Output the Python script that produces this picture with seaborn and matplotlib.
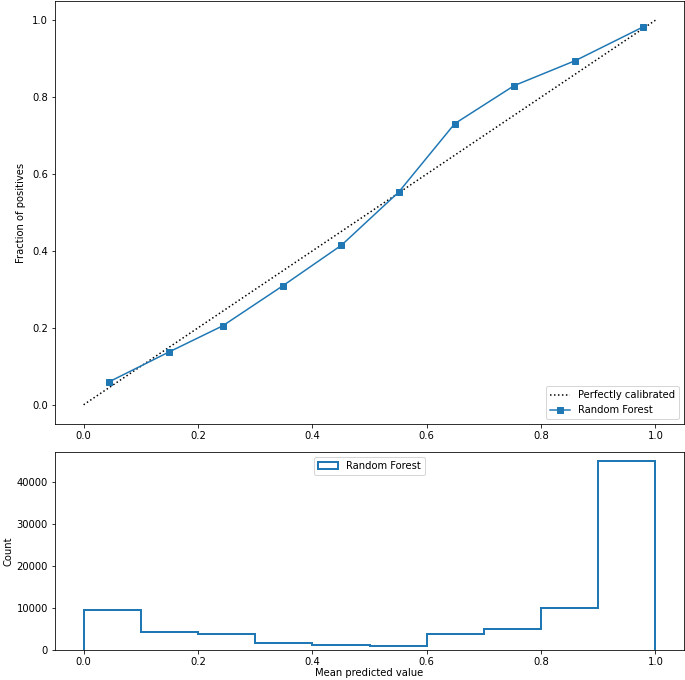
import numpy as np
import matplotlib
matplotlib.use("Agg")
import matplotlib.pyplot as plt
import seaborn as sns

# Calibration curve data
mean_pred = [0.045, 0.149, 0.243, 0.348, 0.451, 0.551, 0.649, 0.753, 0.860, 0.979]
frac_pos = [0.060, 0.137, 0.205, 0.309, 0.415, 0.553, 0.731, 0.830, 0.895, 0.983]
perfect = [0.0, 1.0]

# Histogram data
bin_edges = [0.0, 0.1, 0.2, 0.3, 0.4, 0.5, 0.6, 0.7, 0.8, 0.9, 1.0]
bin_counts = [9550, 4220, 3850, 1680, 1200, 960, 3750, 4950, 10000, 45000]

model_name = "Random Forest"
color = "#1f77b4"

plt.rcParams['font.family'] = ['DejaVu Sans']
plt.rcParams['font.size'] = 10

fig = plt.figure(figsize=(685 / 72, 680 / 72), dpi=72)
ax1 = fig.add_axes([55 / 685, 1 - 424 / 680, 629 / 685, 424 / 680 - 0.0015])
ax2 = fig.add_axes([55 / 685, 30 / 680, 629 / 685, (650 - 451.7) / 680])

ax1.plot(perfect, perfect, "k:", label="Perfectly calibrated")
sns.lineplot(x=mean_pred, y=frac_pos, marker="s", color=color, ax=ax1,
             label=model_name, markeredgecolor=color, markersize=6,
             markeredgewidth=1, linewidth=1.5)
ax1.set_xlim(-0.05, 1.05)
ax1.set_ylim(-0.05, 1.05)
ax1.set_xticks([0.0, 0.2, 0.4, 0.6, 0.8, 1.0])
ax1.set_yticks([0.0, 0.2, 0.4, 0.6, 0.8, 1.0])
ax1.set_ylabel("Fraction of positives", labelpad=6)
ax1.set_xlabel("")
ax1.legend(loc="lower right")

centers = [(a + b) / 2 for a, b in zip(bin_edges[:-1], bin_edges[1:])]
ax2.hist(centers, bins=bin_edges, weights=bin_counts, histtype="step",
         lw=2, color=color, label=model_name)
ax2.set_xlim(-0.05, 1.05)
ax2.set_ylim(0, max(bin_counts) * 1.05)
ax2.set_xticks([0.0, 0.2, 0.4, 0.6, 0.8, 1.0])
ax2.set_yticks([0, 10000, 20000, 30000, 40000])
ax2.set_xlabel("Mean predicted value", labelpad=1.5)
ax2.set_ylabel("Count", labelpad=3)
ax2.legend(loc="upper center", ncol=2)

fig.savefig("out.png", dpi=72)
